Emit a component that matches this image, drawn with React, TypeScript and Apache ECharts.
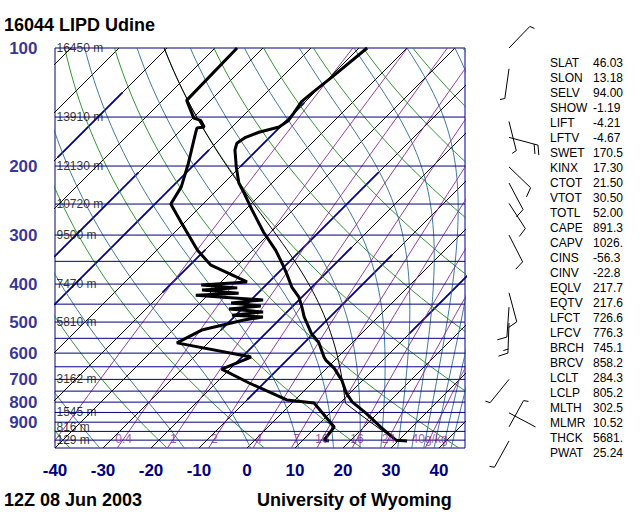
import { useEffect, useRef } from "react";
import * as echarts from "echarts";

// ---------- texts ----------
const TITLE = "16044 LIPD Udine";
const DATE_TEXT = "12Z 08 Jun 2003";
const SOURCE_TEXT = "University of Wyoming";

// ---------- axes ----------
const P_TOP = 100;
const P_BOTTOM = 1047.3;
const T_LEFT = -40;
const T_RIGHT = 45.42;

const pressureTicks = [100, 200, 300, 400, 500, 600, 700, 800, 900];
const temperatureTicks = [-40, -30, -20, -10, 0, 10, 20, 30, 40];
const isobarLevels = [150, 200, 250, 300, 350, 400, 450, 500, 550, 600, 650, 700, 750, 800, 850, 900, 950, 1000];
const isothermLevels = [-130, -120, -110, -100, -90, -80, -70, -60, -50, -40, -30, -20, -10, 0, 10, 20, 30, 40];
// highlighted (thick navy) isotherm stretches: temperature, upper pressure, lower pressure
const navyIsoT = [-100, -80, -70, -60, -50, -30, -20, -10, 10];
const navyIsoPTop = [130, 208, 182, 138, 327, 208, 322, 337, 372];
const navyIsoPBottom = [190, 341, 452, 201, 420, 524, 636, 790, 536];
const dryAdiabatThetaC = [-40, -20, 0, 20, 40, 60, 80, 100, 120, 140, 160, 180];
const moistThetaEK = [240, 260, 280, 300, 320, 340, 360, 380, 400, 420, 440, 460, 480];
const mixingRatioGkg = [0.1, 0.4, 1, 2, 4, 7, 10, 16, 24, 40];
const mixingRatioLabels = ["", "0.4", "1", "2", "4", "7", "10", "16", "24", "40g/kg"];
const MIX_LABEL_P = 993;

const heightLevelsP = [100, 150, 200, 250, 300, 400, 500, 700, 850, 925, 1000];
const heightLevelsText = ["16450 m", "13910 m", "12130 m", "10720 m", "9500 m", "7470 m", "5810 m", "3162 m", "1545 m", "816 m", "129 m"];

// ---------- sounding ----------
const tempP = [1005, 1000, 926, 853, 799, 758, 703, 655, 625, 614, 565, 533, 485, 458, 432, 407, 379, 362, 328, 295, 259, 234, 221, 201, 182, 175, 169, 164, 159, 153, 147, 137, 130, 119, 100];
const tempT = [31.9, 29.4, 23.5, 17.5, 12.3, 9.2, 5.6, 1.5, -1.9, -2.9, -6.9, -10.6, -15.4, -17.9, -20.6, -24.2, -27.7, -30.0, -35.2, -41.5, -48.5, -53.8, -56.9, -60.8, -64.6, -65.6, -65.0, -63.3, -60.2, -59.6, -60.0, -60.8, -60.4, -59.6, -58.3];

const dewP = [1005, 1000, 926, 804, 790, 715, 659, 614, 565, 524, 494, 485, 480, 471, 463, 455, 447, 439, 432, 427, 422, 414, 409, 402, 395, 358, 328, 279, 250, 226, 197, 165, 160, 159, 153, 151, 136, 100];
const dewT = [15.6, 14.4, 13.8, 4.6, -1.7, -13.1, -21.7, -18.1, -36.5, -34.0, -27.3, -24.0, -30.8, -25.0, -32.7, -26.7, -33.5, -27.5, -36.3, -42.5, -34.0, -42.3, -35.4, -43.5, -34.6, -45.6, -51.5, -60.6, -66.7, -68.1, -71.5, -76.3, -77.1, -75.8, -77.9, -79.8, -85.0, -85.4];

// parcel (from the station indices)
const PARCEL_SURFACE_P = 1005;
const PARCEL_THETA_K = 302.5;
const LCL_P = 805.2;
const LCL_T_K = 284.3;

// winds
const windP = [100, 113, 154, 169, 201, 221, 249, 300, 421, 458, 503, 700, 852, 925, 1005];
const windDir = [44, 188, 166, 105, 134, 152, 147, 153, 165, 184, 182, 219, 118, 29, 209];
const windSpd = [5, 5, 5, 20, 10, 10, 10, 10, 10, 10, 15, 5, 2, 5, 5];

// station indices
const statNames = ["SLAT", "SLON", "SELV", "SHOW", "LIFT", "LFTV", "SWET", "KINX", "CTOT", "VTOT", "TOTL", "CAPE", "CAPV", "CINS", "CINV", "EQLV", "EQTV", "LFCT", "LFCV", "BRCH", "BRCV", "LCLT", "LCLP", "MLTH", "MLMR", "THCK", "PWAT"];
const statValues = ["46.03", "13.18", "94.00", "-1.19", "-4.21", "-4.67", "170.5", "17.30", "21.50", "30.50", "52.00", "891.3", "1026.", "-56.3", "-22.8", "217.7", "217.6", "726.6", "776.3", "745.1", "858.2", "284.3", "805.2", "302.5", "10.52", "5681.", "25.24"];

// ---------- layout ----------
const GRID_L = 55;
const GRID_T = 48;
const GRID_W = 410;
const GRID_H = 400;
const BARB_X = 509;
const FONT = '"Liberation Sans", Arial, Helvetica, sans-serif';

const NAVY = "#000080";
const GREEN = "#1f8a1f";
const TEAL = "#2a6a92";
const PURPLE = "#8a2a96";

// ---------- thermodynamics ----------
const SKEW = (GRID_H / Math.log(P_BOTTOM / P_TOP)) / (GRID_W / (T_RIGHT - T_LEFT));
const skewX = (tC: number, p: number) => tC + SKEW * Math.log(P_BOTTOM / p);
const Rd = 287.04, Cp = 1005.7, Lv = 2.501e6, EPS = 0.622, KAPPA = 0.2857;
const es = (tC: number) => 6.112 * Math.exp((17.67 * tC) / (tC + 243.5));
const rs = (tC: number, p: number) => { const e = es(tC); return (EPS * e) / (p - e); };
const dTdlnp = (tK: number, p: number) => {
  const r = rs(tK - 273.15, p);
  return (Rd * tK + Lv * r) / (Cp + (Lv * Lv * r * EPS) / (Rd * tK * tK));
};
function moistPath(tK0: number, p0: number, p1: number, steps: number): number[][] {
  const out: number[][] = [[tK0, p0]];
  let t = tK0;
  let lp = Math.log(p0);
  const h = (Math.log(p1) - lp) / steps;
  for (let i = 0; i < steps; i++) {
    const k1 = dTdlnp(t, Math.exp(lp));
    const k2 = dTdlnp(t + (h / 2) * k1, Math.exp(lp + h / 2));
    const k3 = dTdlnp(t + (h / 2) * k2, Math.exp(lp + h / 2));
    const k4 = dTdlnp(t + h * k3, Math.exp(lp + h));
    t += (h / 6) * (k1 + 2 * k2 + 2 * k3 + k4);
    lp += h;
    out.push([t, Math.exp(lp)]);
  }
  return out;
}
const thetaE1000 = (tC: number) => { const tk = tC + 273.15; return tk * Math.exp((Lv * rs(tC, 1000)) / (Cp * tk)); };
function tempForThetaE(target: number) {
  let lo = -80, hi = 60;
  for (let i = 0; i < 60; i++) { const m = (lo + hi) / 2; if (thetaE1000(m) < target) lo = m; else hi = m; }
  return (lo + hi) / 2;
}
const dewFromMix = (wGkg: number, p: number) => {
  const w = wGkg / 1000;
  const e = (w * p) / (EPS + w);
  const l = Math.log(e / 6.112);
  return (243.5 * l) / (17.67 - l);
};
const logSpace = (a: number, b: number, n: number) => {
  const r: number[] = [];
  for (let i = 0; i <= n; i++) r.push(a * Math.pow(b / a, i / n));
  return r;
};

function lineSeries(data: (number | string)[][], color: string, width: number, z: number) {
  return {
    type: "line", data, symbol: "none", showSymbol: false, silent: true, clip: true, z,
    lineStyle: { color, width }, emphasis: { disabled: true }, animation: false,
  };
}

function buildOption() {
  const series: any[] = [];
  // isotherms
  isothermLevels.forEach((t) => series.push(lineSeries([[skewX(t, P_BOTTOM), P_BOTTOM], [skewX(t, P_TOP), P_TOP]], "#000000", 1, 1)));
  navyIsoT.forEach((t, i) => series.push(lineSeries([[skewX(t, navyIsoPBottom[i]), navyIsoPBottom[i]], [skewX(t, navyIsoPTop[i]), navyIsoPTop[i]]], NAVY, 1.8, 1)));
  // dry adiabats
  const pAll = logSpace(P_BOTTOM, P_TOP, 40);
  dryAdiabatThetaC.forEach((th) => {
    series.push(lineSeries(pAll.map((p) => [skewX((th + 273.15) * Math.pow(p / 1000, KAPPA) - 273.15, p), p]), GREEN, 0.9, 2));
  });
  // moist adiabats
  moistThetaEK.forEach((te) => {
    const t0 = tempForThetaE(te) + 273.15;
    const up = moistPath(t0, 1000, P_TOP, 60);
    const down = moistPath(t0, 1000, P_BOTTOM + 5, 4).reverse();
    const pts = down.concat(up.slice(1)).map(([tk, p]) => [skewX(tk - 273.15, p), p]);
    series.push(lineSeries(pts, TEAL, 0.9, 2));
  });
  // mixing ratio lines
  mixingRatioGkg.forEach((w) => {
    series.push(lineSeries(logSpace(P_BOTTOM, P_TOP, 30).map((p) => [skewX(dewFromMix(w, p), p), p]), PURPLE, 0.9, 3));
  });
  // isobars
  isobarLevels.forEach((p) => series.push(lineSeries([[T_LEFT, p], [T_RIGHT, p]], NAVY, 1, 4)));
  // parcel path
  const dry = logSpace(PARCEL_SURFACE_P, LCL_P, 8).map((p) => [skewX(PARCEL_THETA_K * Math.pow(p / 1000, KAPPA) - 273.15, p), p]);
  const moist = moistPath(LCL_T_K, LCL_P, P_TOP, 60).map(([tk, p]) => [skewX(tk - 273.15, p), p]);
  series.push(lineSeries(dry.concat(moist.slice(1)), "#000000", 1, 5));
  // profiles
  series.push(lineSeries(tempP.map((p, i) => [skewX(tempT[i], p), p]), "#000000", 3, 6));
  series.push(lineSeries(dewP.map((p, i) => [skewX(dewT[i], p), p]), "#000000", 3, 6));

  // height labels on isobars
  series.push({
    type: "scatter", silent: true, clip: false, z: 7, symbolSize: 1,
    itemStyle: { color: "rgba(0,0,0,0)" },
    data: heightLevelsP.map((p, i) => ({ value: [T_LEFT, p], name: heightLevelsText[i] })),
    label: { show: true, position: "right", distance: 1, formatter: (d: any) => d.name, color: "#000", fontSize: 12, fontFamily: FONT },
  });
  // pressure labels
  series.push({
    type: "scatter", silent: true, clip: false, z: 7, symbolSize: 1,
    itemStyle: { color: "rgba(0,0,0,0)" },
    data: pressureTicks.map((p) => ({ value: [T_LEFT, p], name: String(p) })),
    label: { show: true, position: "left", distance: 17, formatter: (d: any) => d.name, color: NAVY, fontSize: 17, fontWeight: "bold", fontFamily: FONT },
  });
  // mixing ratio labels
  series.push({
    type: "scatter", silent: true, clip: false, z: 7, symbolSize: 1,
    itemStyle: { color: "rgba(0,0,0,0)" },
    data: mixingRatioGkg
      .map((w, i) => ({ value: [skewX(dewFromMix(w, MIX_LABEL_P), MIX_LABEL_P), MIX_LABEL_P], name: mixingRatioLabels[i] }))
      .filter((d) => d.name !== ""),
    label: { show: true, position: "inside", formatter: (d: any) => d.name, color: PURPLE, fontSize: 12, fontFamily: FONT },
  });
  // wind barbs
  series.push({
    type: "custom", coordinateSystem: "cartesian2d", silent: true, clip: false, z: 8,
    data: windP.map((p, i) => [T_LEFT, p, windDir[i], windSpd[i]]),
    renderItem: (_params: any, api: any) => {
      const by = api.coord([T_LEFT, api.value(1)])[1];
      const bx = BARB_X;
      const a = (api.value(2) * Math.PI) / 180;
      const ux = Math.sin(a), uy = -Math.cos(a);
      const L = 30;
      const tx = bx + ux * L, ty = by + uy * L;
      const fx = -uy * 0.94 + ux * 0.34, fy = ux * 0.94 + uy * 0.34;
      const st = { stroke: "#000", lineWidth: 1 };
      const children: any[] = [{ type: "line", shape: { x1: bx, y1: by, x2: tx, y2: ty }, style: st }];
      let rem = Math.round(api.value(3) / 5) * 5;
      let pos = 0;
      while (rem >= 10) {
        const sx = tx - ux * pos, sy = ty - uy * pos;
        children.push({ type: "line", shape: { x1: sx, y1: sy, x2: sx + fx * 10, y2: sy + fy * 10 }, style: st });
        rem -= 10; pos += 4;
      }
      if (rem >= 5) {
        const sx = tx - ux * pos, sy = ty - uy * pos;
        children.push({ type: "line", shape: { x1: sx, y1: sy, x2: sx + fx * 5, y2: sy + fy * 5 }, style: st });
      }
      return { type: "group", children };
    },
  });

  const graphic: any[] = [
    { type: "text", x: 4, y: 25, style: { text: TITLE, fill: "#000", font: `bold 18px ${FONT}`, textVerticalAlign: "middle", verticalAlign: "middle" } },
    { type: "text", x: 4, y: 500, style: { text: DATE_TEXT, fill: "#000", font: `bold 18px ${FONT}`, textVerticalAlign: "middle", verticalAlign: "middle" } },
    { type: "text", x: 257, y: 500, style: { text: SOURCE_TEXT, fill: "#000", font: `bold 18px ${FONT}`, textVerticalAlign: "middle", verticalAlign: "middle" } },
  ];
  statNames.forEach((n, i) => {
    const y = 63 + 15 * i;
    graphic.push({ type: "text", x: 550, y, style: { text: n, fill: "#000", font: `12px ${FONT}`, textVerticalAlign: "middle", verticalAlign: "middle" } });
    graphic.push({ type: "text", x: 593, y, style: { text: statValues[i], fill: "#000", font: `12px ${FONT}`, textVerticalAlign: "middle", verticalAlign: "middle" } });
  });

  return {
    animation: false,
    backgroundColor: "#ffffff",
    textStyle: { fontFamily: FONT },
    grid: { left: GRID_L, top: GRID_T, width: GRID_W, height: GRID_H, show: true, borderColor: NAVY, borderWidth: 1, backgroundColor: "transparent" },
    xAxis: {
      type: "value", min: T_LEFT, max: T_RIGHT, interval: 10,
      axisLine: { show: false }, axisTick: { show: false }, splitLine: { show: false },
      axisLabel: {
        show: true, margin: 14, color: NAVY, fontSize: 17, fontWeight: "bold", fontFamily: FONT,
        showMaxLabel: false,
        formatter: (v: number) => (temperatureTicks.indexOf(Math.round(v)) >= 0 && Math.abs(v - Math.round(v)) < 1e-6 ? String(Math.round(v)) : ""),
      },
    },
    yAxis: {
      type: "log", logBase: 10, min: P_TOP, max: P_BOTTOM, inverse: true,
      axisLine: { show: false }, axisTick: { show: false }, splitLine: { show: false }, axisLabel: { show: false },
    },
    graphic,
    series,
  };
}

export default function App() {
  const ref = useRef<HTMLDivElement>(null);
  useEffect(() => {
    if (!ref.current) return;
    const chart = echarts.init(ref.current, null, { renderer: "svg" });
    chart.setOption(buildOption() as any);
    return () => chart.dispose();
  }, []);
  return <div ref={ref} style={{ position: "absolute", left: 0, top: 0, width: 640, height: 512, background: "#fff" }} />;
}
